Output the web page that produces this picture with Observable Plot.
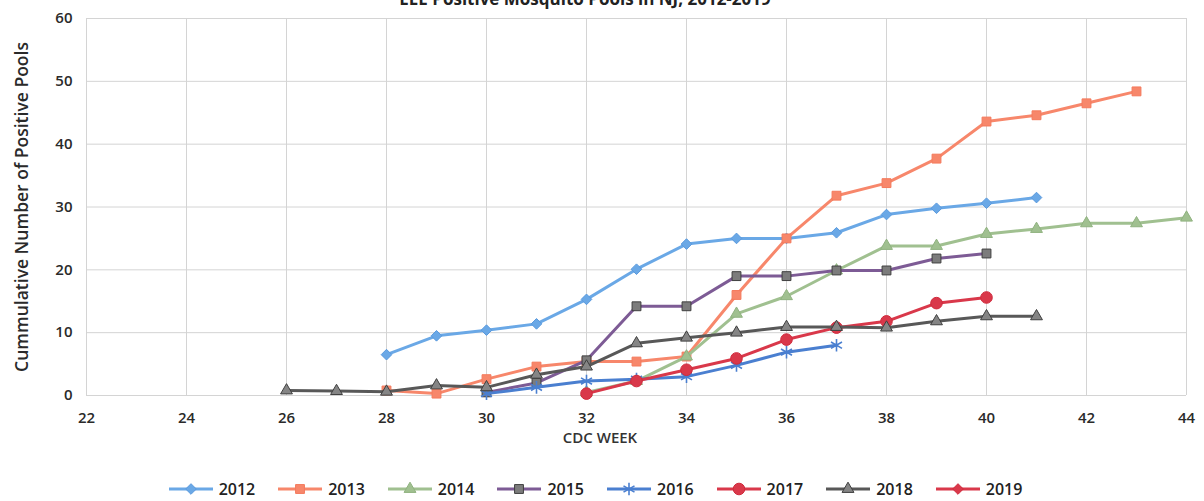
<!DOCTYPE html>
<html>
<head>
<meta charset="utf-8">
<script src="https://cdn.jsdelivr.net/npm/d3@7"></script>
<script src="https://cdn.jsdelivr.net/npm/@observablehq/plot@0.6"></script>
<style>
  html, body { margin: 0; padding: 0; background: #fff; overflow: hidden; }
  #wrap { position: relative; width: 1204px; height: 501px; font-family: "Open Sans", sans-serif; }
  #title { position: absolute; left: 0; width: 1170px; top: -11px; text-align: center; font: 700 17px "Open Sans", sans-serif; color: #222; line-height: 20px; }
  #xlabel { position: absolute; left: 0; width: 1200px; top: 427px; text-align: center; font: 600 15px "Open Sans", sans-serif; color: #333; }
  #chart { position: absolute; left: 0; top: 0; }
  #legend { position: absolute; left: 0; top: 478px; width: 1190px; display: flex; justify-content: center; gap: 22px; font: 600 16px "Open Sans", sans-serif; color: #222; }
  .item { display: flex; align-items: center; gap: 5px; }
</style>
</head>
<body>
<div id="wrap">
  <div id="chart"></div>
  <div id="title">EEE Positive Mosquito Pools in NJ, 2012-2019</div>
  <div id="xlabel">CDC WEEK</div>
  <div id="legend"></div>
</div>
<script>
// ---- data ----
const xTicks = [22, 24, 26, 28, 30, 32, 34, 36, 38, 40, 42, 44];
const yTicks = [0, 10, 20, 30, 40, 50, 60];

const years = ["2012", "2013", "2014", "2015", "2016", "2017", "2018", "2019"];

const weeks2012 = [28, 29, 30, 31, 32, 33, 34, 35, 36, 37, 38, 39, 40, 41];
const pools2012 = [6.5, 9.5, 10.4, 11.4, 15.3, 20.1, 24.1, 25.0, 25.0, 25.9, 28.8, 29.8, 30.6, 31.5];

const weeks2013 = [28, 29, 30, 31, 32, 33, 34, 35, 36, 37, 38, 39, 40, 41, 42, 43];
const pools2013 = [0.8, 0.3, 2.6, 4.6, 5.4, 5.4, 6.2, 16.0, 25.0, 31.8, 33.8, 37.7, 43.6, 44.6, 46.5, 48.4];

const weeks2014 = [32, 33, 34, 35, 36, 37, 38, 39, 40, 41, 42, 43, 44];
const pools2014 = [0.5, 2.3, 6.2, 13.0, 15.8, 19.9, 23.8, 23.8, 25.7, 26.5, 27.4, 27.4, 28.3];

const weeks2015 = [30, 31, 32, 33, 34, 35, 36, 37, 38, 39, 40];
const pools2015 = [0.5, 2.0, 5.6, 14.2, 14.2, 19.0, 19.0, 19.9, 19.9, 21.8, 22.6];

const weeks2016 = [30, 31, 32, 33, 34, 35, 36, 37];
const pools2016 = [0.3, 1.3, 2.3, 2.6, 3.0, 4.8, 6.9, 8.0];

const weeks2017 = [32, 33, 34, 35, 36, 37, 38, 39, 40];
const pools2017 = [0.3, 2.3, 4.1, 5.9, 8.9, 10.8, 11.8, 14.7, 15.6];

const weeks2018 = [26, 27, 28, 29, 30, 31, 32, 33, 34, 35, 36, 37, 38, 39, 40, 41];
const pools2018 = [0.8, 0.7, 0.6, 1.6, 1.3, 3.3, 4.6, 8.3, 9.2, 10.0, 10.9, 10.9, 10.8, 11.8, 12.6, 12.6];

const weeks2019 = [];
const pools2019 = [];

// ---- styles ----
const lineColors   = ["#6aa8e6", "#f7876b", "#a0c090", "#7d5b95", "#4a7fd0", "#d9384a", "#585858", "#d9384a"];
const markFill     = ["#6aa8e6", "#f7876b", "#a0c090", "#7c7c7c", "none",    "#d9384a", "#858585", "#d9384a"];
const markStroke   = ["#5a9ade", "#f47a5c", "#8fb27f", "#3f3f3f", "#4a7fd0", "#d02a3c", "#3f3f3f", "#d02a3c"];
const markSymbol   = ["diamond2", "square", "triangle", "square", "asterisk", "circle", "triangle", "diamond2"];
const markR        = [4.8, 5.0, 4.4, 5.0, 6, 5.8, 4.4, 4.8];

const weekLists = [weeks2012, weeks2013, weeks2014, weeks2015, weeks2016, weeks2017, weeks2018, weeks2019];
const poolLists = [pools2012, pools2013, pools2014, pools2015, pools2016, pools2017, pools2018, pools2019];

const series = years.map((y, i) => weekLists[i].map((w, j) => ({year: y, week: w, pools: poolLists[i][j]})));

const marks = [
  Plot.gridX(xTicks, {stroke: "#d4d4d4", strokeOpacity: 1, strokeWidth: 1}),
  Plot.gridY(yTicks, {stroke: "#d4d4d4", strokeOpacity: 1, strokeWidth: 1}),
  Plot.axisX(xTicks, {tickSize: 0, tickPadding: 17, fontSize: 15, fontWeight: 600, fill: "#2a2a2a", label: null}),
  Plot.axisY(yTicks, {tickSize: 0, tickPadding: 14, fontSize: 15, fontWeight: 600, fill: "#2a2a2a",
    label: "Cummulative Number of Positive Pools", labelAnchor: "center", labelArrow: "none", labelOffset: 71})
];
// Excel draws each series (line then markers) in order
for (let i = 0; i < years.length; i++) {
  if (!series[i].length) continue;
  marks.push(Plot.line(series[i], {x: "week", y: "pools", stroke: lineColors[i], strokeWidth: 3}));
  marks.push(Plot.dot(series[i], {x: "week", y: "pools", symbol: () => markSymbol[i], r: markR[i],
    fill: markFill[i], stroke: markStroke[i], strokeWidth: i === 4 ? 1.6 : 1}));
}

const chart = Plot.plot({
  width: 1204,
  height: 470,
  marginLeft: 86,
  marginRight: 18,
  marginTop: 18,
  marginBottom: 75,
  style: {fontFamily: "'Open Sans', sans-serif", fontSize: "15px", color: "#2a2a2a", background: "transparent"},
  x: {domain: [22, 44]},
  y: {domain: [0, 60]},
  symbol: {type: "identity"},
  marks
});
document.getElementById("chart").append(chart);
// y label style
d3.select(chart).selectAll("g[aria-label='y-axis label']").attr("font-size", 17.5).attr("font-weight", 600);

// ---- legend ----
const legend = d3.select("#legend");
const symMap = {diamond2: d3.symbolDiamond2, square: d3.symbolSquare, triangle: d3.symbolTriangle,
                asterisk: d3.symbolAsterisk, circle: d3.symbolCircle};
years.forEach((y, i) => {
  const it = legend.append("div").attr("class", "item");
  const svg = it.append("svg").attr("width", 46).attr("height", 16);
  svg.append("line").attr("x1", 1).attr("x2", 45).attr("y1", 8).attr("y2", 8)
    .attr("stroke", lineColors[i]).attr("stroke-width", 3);
  svg.append("path").attr("transform", "translate(23,8)")
    .attr("d", d3.symbol(symMap[markSymbol[i]], Math.PI * markR[i] * markR[i])())
    .attr("fill", markFill[i]).attr("stroke", markStroke[i]).attr("stroke-width", i === 4 ? 1.6 : 1);
  it.append("span").text(y);
});
</script>
</body>
</html>
